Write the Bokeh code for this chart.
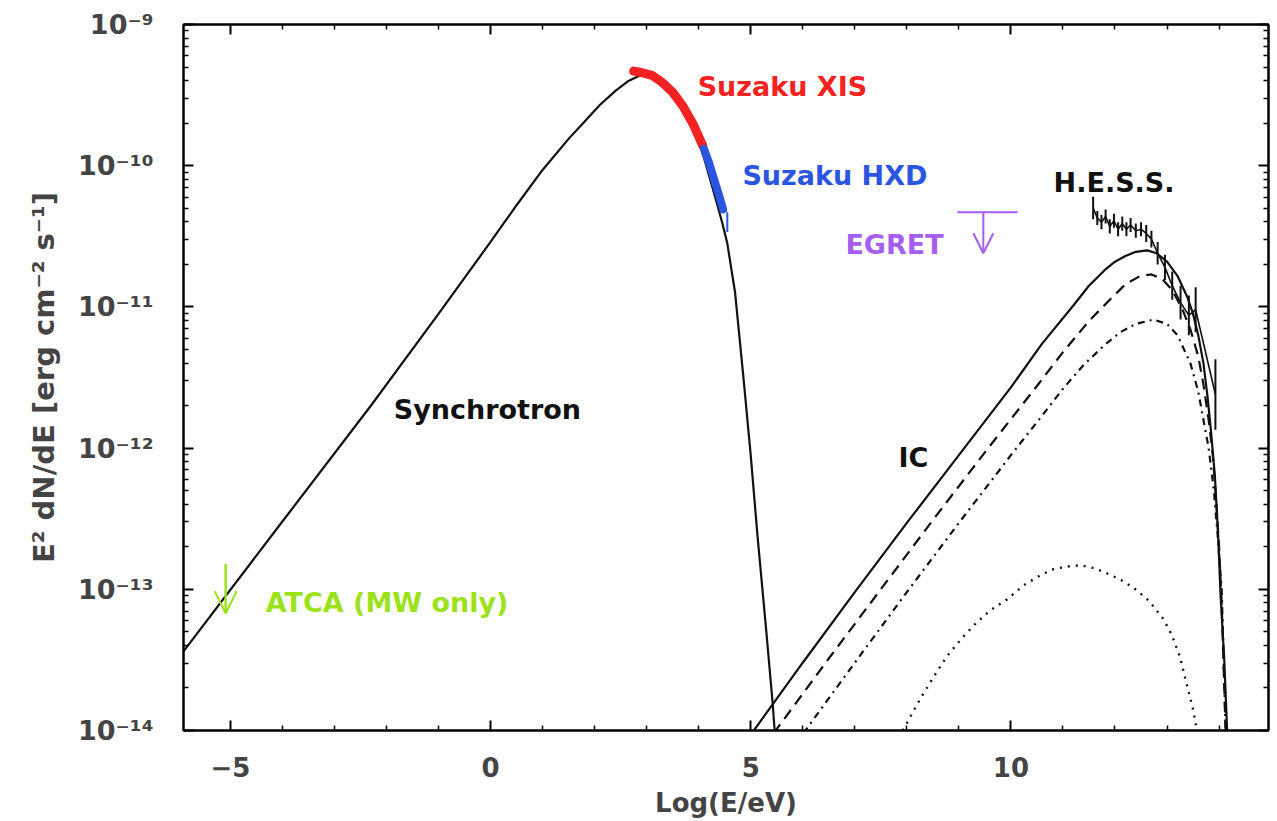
import numpy as np
from bokeh.plotting import figure
from bokeh.models import (LinearAxis, LogAxis, FixedTicker, CustomJSTickFormatter,
                          Label, Arrow, OpenHead, Range1d)
from bokeh.embed import file_html
from bokeh.resources import INLINE

# ---------------- data (log10 E/eV, log10 flux) ----------------
sync_logE = [-5.9, -4.0, -2.3, -1.0, 0.0, 0.5, 1.0, 1.5, 1.8, 2.1, 2.4, 2.65, 2.88, 3.1,
             3.3, 3.5, 3.7, 3.9, 4.0, 4.13, 4.3, 4.45, 4.55, 4.7, 4.86, 5.0, 5.13, 5.3,
             5.42, 5.47]
sync_logF = [-13.44, -12.52, -11.70, -11.05, -10.54, -10.28, -10.03, -9.81, -9.69, -9.57,
             -9.47, -9.40, -9.36, -9.37, -9.41, -9.48, -9.58, -9.72, -9.82, -9.98, -10.2,
             -10.4, -10.55, -10.9, -11.5, -12.05, -12.62, -13.3, -13.8, -14.05]

ic_tot_logE = [5.0, 6.0, 7.0, 8.0, 9.0, 10.0, 10.6, 11.2, 11.5, 11.8, 12.0, 12.2, 12.4,
               12.62, 12.8, 13.0, 13.2, 13.39, 13.5, 13.6, 13.7, 13.78, 13.85, 13.92,
               13.98, 14.03, 14.1, 14.16]
ic_tot_logF = [-14.03, -13.52, -13.02, -12.53, -12.05, -11.57, -11.26, -10.99, -10.85,
               -10.74, -10.68, -10.64, -10.61, -10.60, -10.62, -10.68, -10.78, -10.93,
               -11.05, -11.2, -11.4, -11.64, -11.9, -12.2, -12.6, -13.05, -13.5, -14.05]

ic_dash_logE = [5.44, 6.5, 7.5, 8.5, 9.5, 10.5, 11.0, 11.5, 11.9, 12.2, 12.49, 12.7,
                12.9, 13.1, 13.3, 13.45, 13.6, 13.7, 13.8, 13.88, 13.95, 14.0, 14.05, 14.13]
ic_dash_logF = [-14.02, -13.49, -13.0, -12.51, -12.03, -11.56, -11.32, -11.1, -10.95,
                -10.84, -10.78, -10.77, -10.80, -10.88, -11.02, -11.16, -11.35, -11.55,
                -11.8, -12.05, -12.4, -12.7, -13.1, -14.05]

ic_dd_logE = [6.01, 7.0, 8.0, 9.0, 10.0, 10.6, 11.0, 11.4, 11.8, 12.1, 12.4, 12.74, 13.0,
              13.2, 13.45, 13.6, 13.7, 13.8, 13.9, 13.98, 14.05, 14.13]
ic_dd_logF = [-14.02, -13.52, -13.02, -12.53, -12.05, -11.77, -11.58, -11.41, -11.27,
              -11.18, -11.12, -11.09, -11.12, -11.2, -11.4, -11.6, -11.8, -12.0, -12.3,
              -12.65, -13.0, -14.05]

ic_dot_logE = [7.85, 8.1, 8.3, 8.55, 8.78, 9.05, 9.3, 9.6, 9.93, 10.25, 10.57, 10.8, 11.05,
               11.34, 11.6, 11.8, 12.1, 12.36, 12.65, 12.93, 13.1, 13.25, 13.39, 13.5, 13.6]
ic_dot_logF = [-14.05, -13.88, -13.75, -13.6, -13.47, -13.35, -13.25, -13.15, -13.07,
               -12.97, -12.90, -12.86, -12.84, -12.83, -12.85, -12.88, -12.93, -12.99,
               -13.08, -13.21, -13.33, -13.48, -13.69, -13.85, -14.05]

xis_logE = [2.75, 2.9, 3.1, 3.3, 3.5, 3.7, 3.9, 4.08]
xis_logF = [-9.33, -9.34, -9.36, -9.41, -9.48, -9.58, -9.71, -9.86]

hxd_logE = [4.1, 4.2, 4.3, 4.4, 4.47]
hxd_logF = [-9.88, -9.98, -10.1, -10.22, -10.31]
hxd_bar_logE = [4.55]
hxd_bar_lo = [-10.47]
hxd_bar_hi = [-10.33]

egret_logE_lo = [8.97]
egret_logE_hi = [10.13]
egret_logE = [9.47]
egret_logF = [-10.33]
egret_arrow_to = [-10.62]

atca_logE = [-5.09]
atca_logF_hi = [-12.82]
atca_logF_lo = [-13.17]

hess_logE = [11.58, 11.66, 11.74, 11.82, 11.90, 11.98, 12.06, 12.14, 12.22, 12.30, 12.40,
             12.50, 12.60, 12.70, 12.82, 12.96, 13.10, 13.26, 13.42, 13.55, 13.93]
hess_logF = [-10.30, -10.37, -10.40, -10.36, -10.43, -10.39, -10.45, -10.41, -10.45, -10.42,
             -10.46, -10.45, -10.48, -10.52, -10.62, -10.72, -10.85, -10.97, -11.06, -11.02,
             -11.62]
hess_err = [0.08, 0.05, 0.05, 0.05, 0.05, 0.05, 0.05, 0.05, 0.05, 0.05, 0.05, 0.05, 0.06,
            0.06, 0.08, 0.09, 0.10, 0.12, 0.14, 0.16, 0.25]

x_major = [-5, 0, 5, 10, 15]
y_major_exp = [-14, -13, -12, -11, -10, -9]

def F(a):
    return 10 ** np.asarray(a, dtype=float)

# ---------------- figure ----------------
FONT = "DejaVu Sans"
p = figure(width=1270, height=820, x_range=Range1d(-5.9, 14.95),
           y_range=Range1d(1e-14, 1e-9), y_axis_type="log",
           output_backend="svg", toolbar_location=None,
           min_border_left=183, min_border_top=24, min_border_right=2,
           min_border_bottom=10)
p.grid.visible = False
p.outline_line_color = "black"
p.outline_line_width = 2
p.background_fill_color = "white"
p.border_fill_color = "white"

x_minor = [v for v in range(-5, 15) if v not in x_major]
xt = FixedTicker(ticks=x_major, minor_ticks=x_minor)
y_major = [10.0 ** e for e in y_major_exp]
y_minor = [m * 10.0 ** e for e in y_major_exp[:-1] for m in range(2, 10)]
yt = FixedTicker(ticks=y_major, minor_ticks=y_minor)

xfmt = CustomJSTickFormatter(code="return tick < 0 ? '\u2212' + Math.abs(tick) : tick.toString();")
yfmt = CustomJSTickFormatter(code="""
const sup = {'-':'\u207B','0':'\u2070','1':'\u00B9','2':'\u00B2','3':'\u00B3','4':'\u2074',
             '5':'\u2075','6':'\u2076','7':'\u2077','8':'\u2078','9':'\u2079'};
const e = Math.round(Math.log10(tick)).toString();
return '10' + e.split('').map(c => sup[c]).join('');
""")

def style_axis(ax, labels=True):
    ax.axis_line_width = 2
    ax.axis_line_color = "black"
    ax.major_tick_in = 10
    ax.major_tick_out = 0
    ax.minor_tick_in = 5
    ax.minor_tick_out = 0
    ax.major_tick_line_width = 2
    ax.minor_tick_line_width = 1.5
    if not labels:
        ax.major_label_text_font_size = "1px"
        ax.major_label_text_color = None
        ax.major_label_standoff = 0

xa = p.xaxis[0]
xa.ticker = xt
xa.formatter = xfmt
style_axis(xa)
xa.major_label_text_font = FONT
xa.major_label_text_font_style = "bold"
xa.major_label_text_font_size = "26px"
xa.major_label_standoff = 26
xa.axis_label = "Log(E/eV)"
xa.axis_label_text_font = FONT
xa.axis_label_text_font_style = "bold"
xa.axis_label_text_font_size = "26px"
xa.axis_label_standoff = 8

ya = p.yaxis[0]
ya.ticker = yt
ya.formatter = yfmt
style_axis(ya)
ya.major_label_text_font = FONT
ya.major_label_text_font_style = "bold"
ya.major_label_text_font_size = "27px"
ya.major_label_standoff = 30
ya.axis_label = "E\u00B2 dN/dE [erg cm\u207B\u00B2 s\u207B\u00B9]"
ya.axis_label_text_font = FONT
ya.axis_label_text_font_style = "bold"
ya.axis_label_text_font_size = "29px"
ya.axis_label_standoff = 14

top = LinearAxis(ticker=xt, formatter=CustomJSTickFormatter(code="return '';"))
style_axis(top, labels=False)
p.add_layout(top, "above")
right = LogAxis(ticker=yt, formatter=CustomJSTickFormatter(code="return '';"))
style_axis(right, labels=False)
p.add_layout(right, "right")

# ---------------- curves ----------------
BLACK = "#111111"
p.line(sync_logE, F(sync_logF), line_color=BLACK, line_width=2.2)
p.line(ic_tot_logE, F(ic_tot_logF), line_color=BLACK, line_width=2.2)
p.line(ic_dash_logE, F(ic_dash_logF), line_color=BLACK, line_width=2.2, line_dash="11 7")
p.line(ic_dd_logE, F(ic_dd_logF), line_color=BLACK, line_width=2.2, line_dash="7 5 2 5")
p.line(ic_dot_logE, F(ic_dot_logF), line_color=BLACK, line_width=2.4, line_dash="2 6")

# Suzaku XIS / HXD
RED = "#f42222"
BLUE = "#2a55e0"
p.line(xis_logE, F(xis_logF), line_color=RED, line_width=9, line_cap="round")
p.line(hxd_logE, F(hxd_logF), line_color=BLUE, line_width=8, line_cap="round")
p.segment(x0=hxd_bar_logE, y0=F(hxd_bar_lo), x1=hxd_bar_logE, y1=F(hxd_bar_hi),
          line_color=BLUE, line_width=2)

# EGRET upper limit
PURPLE = "#a45ef0"
p.segment(x0=egret_logE_lo, y0=F(egret_logF), x1=egret_logE_hi, y1=F(egret_logF),
          line_color=PURPLE, line_width=2)
p.add_layout(Arrow(x_start=egret_logE[0], y_start=F(egret_logF)[0],
                   x_end=egret_logE[0], y_end=F(egret_arrow_to)[0],
                   line_color=PURPLE, line_width=2,
                   end=OpenHead(size=20, line_color=PURPLE, line_width=2)))

# ATCA
GREEN = "#9be21a"
p.segment(x0=atca_logE, y0=F(atca_logF_lo), x1=atca_logE, y1=F(atca_logF_hi),
          line_color=GREEN, line_width=2)
p.add_layout(Arrow(x_start=atca_logE[0], y_start=F(atca_logF_hi)[0],
                   x_end=atca_logE[0], y_end=F(atca_logF_lo)[0],
                   line_color=GREEN, line_width=2,
                   end=OpenHead(size=22, line_color=GREEN, line_width=2)))

# H.E.S.S.
hx = np.asarray(hess_logE)
hy = np.asarray(hess_logF)
he = np.asarray(hess_err)
p.line(hx, F(hy), line_color=BLACK, line_width=1.6)
p.segment(x0=hx, y0=F(hy - he), x1=hx, y1=F(hy + he), line_color=BLACK, line_width=2)

# ---------------- labels ----------------
def lab(x, ly, text, color):
    p.add_layout(Label(x=x, y=10 ** ly, text=text, text_color=color, text_font=FONT,
                       text_font_style="bold", text_font_size="27px",
                       text_align="left", text_baseline="middle"))

lab(3.98, -9.44, "Suzaku XIS", RED)
lab(4.84, -10.07, "Suzaku HXD", BLUE)
lab(6.82, -10.56, "EGRET", PURPLE)
lab(10.82, -10.12, "H.E.S.S.", BLACK)
lab(-1.86, -11.73, "Synchrotron", BLACK)
lab(7.84, -12.07, "IC", BLACK)
lab(-4.32, -13.09, "ATCA (MW only)", GREEN)

open("out.html", "w").write(file_html(p, INLINE))
